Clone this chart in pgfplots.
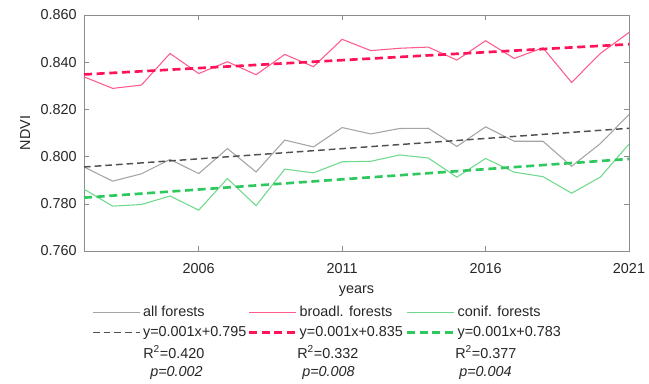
\documentclass[border=0pt]{standalone}
\usepackage{pgfplots}
\pgfplotsset{compat=1.18}
\usepackage{fontspec}
\setmainfont{Liberation Sans}
\definecolor{pinkd}{HTML}{FF1258}
\definecolor{pinkl}{HTML}{FF5C8C}
\definecolor{grayd}{HTML}{505050}
\definecolor{grayl}{HTML}{A4A4A4}
\definecolor{greend}{HTML}{2FC85E}
\definecolor{greenl}{HTML}{6FD98C}
\definecolor{txt}{HTML}{262626}
\begin{document}
\begin{tikzpicture}
\begin{axis}[
  at={(0,0)}, anchor=south west,
  scale only axis, width=408.75pt, height=177pt,
  xmin=2002, xmax=2021, ymin=0.76, ymax=0.86,
  xtick={2006,2011,2016,2021},
  ytick={0.76,0.78,0.80,0.82,0.84,0.86},
  xticklabel style={yshift=-6pt, /pgf/number format/1000 sep={}},
  yticklabel style={xshift=-2pt, /pgf/number format/.cd, fixed, fixed zerofill, precision=3},
  /pgf/number format/assume math mode=true,
  tick label style={font=\fontsize{10.8}{13}\selectfont, text=txt},
  label style={font=\fontsize{10.8}{13}\selectfont, text=txt},
  xlabel={years}, ylabel={NDVI},
  xlabel style={yshift=-2pt},
  ylabel style={yshift=1pt},
  axis line style={draw=gray!90},
  every tick/.style={draw=gray!90},
  major tick length=4pt,
  legend columns=3,
  legend cell align=left,
  legend style={draw=none, fill=none, at={(rel axis cs:0,0)}, anchor=north west,
    xshift=3pt, yshift=-37pt, font=\fontsize{10.8}{13}\selectfont, text=txt,
    row sep=2pt,
    /tikz/column 2/.style={column sep=-1pt},
    /tikz/column 4/.style={column sep=0pt}},
  legend image code/.code={\draw[#1] (0cm,0cm) -- (1.23cm,0cm);},
]
\addplot[grayl, line width=0.8pt] coordinates {
(2002,0.7956)(2003,0.7896)(2004,0.7927)(2005,0.7988)(2006,0.7928)(2007,0.8034)(2008,0.7935)(2009,0.8070)(2010,0.8041)(2011,0.8123)
(2012,0.8096)(2013,0.8119)(2014,0.8120)(2015,0.8043)(2016,0.8126)(2017,0.8065)(2018,0.8065)(2019,0.7959)(2020,0.8055)(2021,0.8178)};
\addlegendentry{all forests}
\addplot[pinkl, line width=0.8pt] coordinates {
(2002,0.8338)(2003,0.8289)(2004,0.8303)(2005,0.8437)(2006,0.8352)(2007,0.8402)(2008,0.8347)(2009,0.8433)(2010,0.8381)(2011,0.8497)
(2012,0.8449)(2013,0.8459)(2014,0.8464)(2015,0.8409)(2016,0.8491)(2017,0.8416)(2018,0.8461)(2019,0.8314)(2020,0.8437)(2021,0.8526)};
\addlegendentry{broadl. forests}
\addplot[greenl, line width=0.8pt] coordinates {
(2002,0.7862)(2003,0.7790)(2004,0.7797)(2005,0.7833)(2006,0.7773)(2007,0.7907)(2008,0.7792)(2009,0.7947)(2010,0.7931)(2011,0.7978)
(2012,0.7980)(2013,0.8007)(2014,0.7994)(2015,0.7913)(2016,0.7992)(2017,0.7934)(2018,0.7915)(2019,0.7845)(2020,0.7913)(2021,0.8053)};
\addlegendentry{conif. forests}
\addplot[grayd, line width=1.1pt, dash pattern=on 5pt off 3pt] coordinates {(2002,0.7956)(2021,0.8120)};
\addlegendentry{y=0.001x+0.795}
\addplot[pinkd, line width=2pt, dash pattern=on 6pt off 3.5pt] coordinates {(2002,0.8348)(2021,0.8476)};
\addlegendentry{y=0.001x+0.835}
\addplot[greend, line width=2pt, dash pattern=on 6pt off 3.5pt] coordinates {(2002,0.7826)(2021,0.7990)};
\addlegendentry{y=0.001x+0.783}
\end{axis}
\begin{scope}[every node/.style={anchor=west, inner sep=0pt, text=txt, font=\fontsize{10.8}{13}\selectfont}]
\node at (44.25pt,-75.75pt) {R\textsuperscript{2}=0.420};
\node at (159.75pt,-75.75pt) {R\textsuperscript{2}=0.332};
\node at (278.25pt,-75.75pt) {R\textsuperscript{2}=0.377};
\node at (49.5pt,-91.5pt) {\itshape p=0.002};
\node at (163.5pt,-91.5pt) {\itshape p=0.008};
\node at (281.25pt,-91.5pt) {\itshape p=0.004};
\end{scope}
\pgfresetboundingbox
\path[use as bounding box] (-63pt,-99.75pt) rectangle (423.75pt,188.25pt);
\end{tikzpicture}
\end{document}
